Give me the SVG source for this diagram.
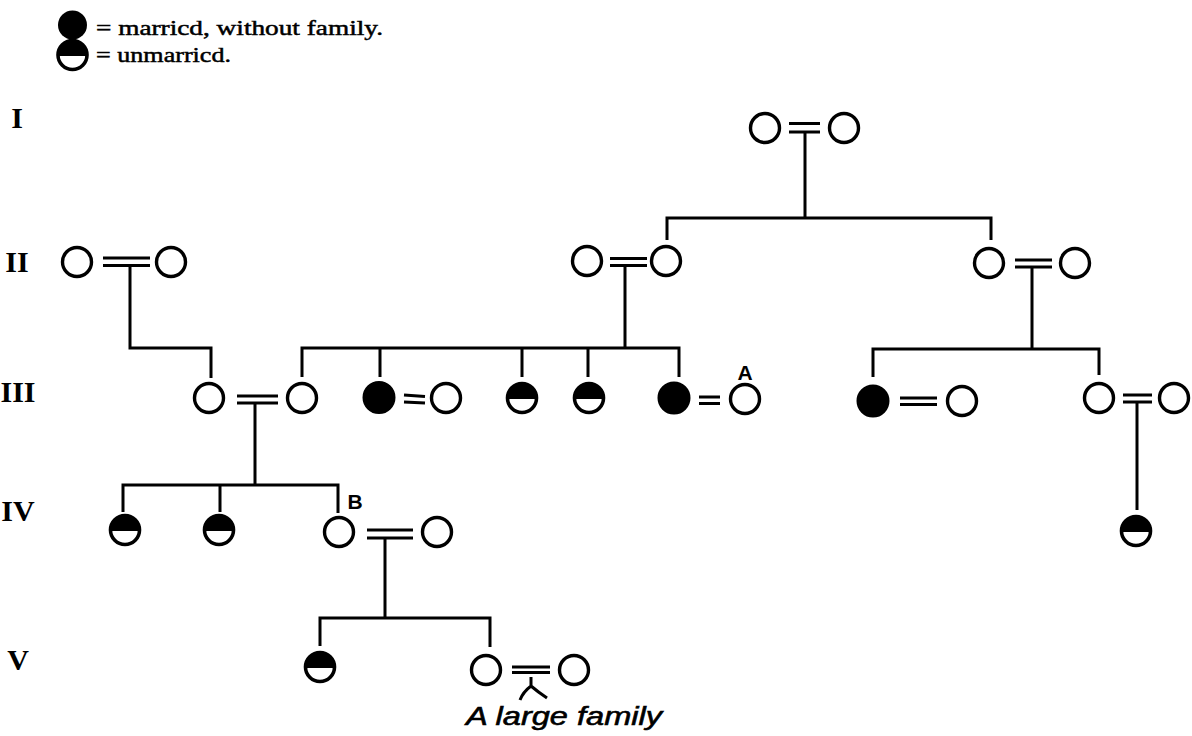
<svg xmlns="http://www.w3.org/2000/svg" xmlns:xlink="http://www.w3.org/1999/xlink" width="1192" height="736" viewBox="0 0 1192 736">
  <style>
    .ln { fill: none; stroke: #000; stroke-width: 3; stroke-linecap: butt; stroke-linejoin: miter; }
    .mar { fill: none; stroke: #000; stroke-width: 3.2; }
    .p { fill: #fff; stroke: #000; stroke-width: 3.4; }
    .f { fill: #000; stroke: #000; stroke-width: 2; }
    .gen { font-family: "Liberation Serif", "DejaVu Serif", serif; font-weight: bold; font-size: 30px; fill: #000; text-anchor: middle; }
    .leg { font-family: "Liberation Serif", "DejaVu Serif", serif; font-size: 22px; fill: #000; stroke: #000; stroke-width: 0.5; }
    .tag { font-family: "Liberation Sans", "DejaVu Sans", sans-serif; font-weight: bold; font-size: 21px; fill: #000; text-anchor: middle; }
    .note { font-family: "Liberation Sans", "DejaVu Sans", sans-serif; font-style: italic; font-size: 26px; fill: #000; stroke: #000; stroke-width: 0.6; }
  </style>
  <defs>
    <!-- unmarried: upper half black, lower half white -->
    <g id="half">
      <circle r="14.5" fill="#fff" stroke="#000" stroke-width="3.6"/>
      <path d="M-14.5,1 A14.5,14.5 0 0 1 14.5,1 Z" fill="#000"/>
    </g>
  </defs>

  <rect width="1192" height="736" fill="#fff"/>

  <!-- key -->
  <g id="legend">
    <circle cx="72.5" cy="25" r="14.5" fill="#000"/>
    <text class="leg" x="96" y="35" textLength="287" lengthAdjust="spacingAndGlyphs">= marricd, without family.</text>
    <use xlink:href="#half" href="#half" transform="translate(72.5,55)"/>
    <text class="leg" x="96" y="62" textLength="135" lengthAdjust="spacingAndGlyphs">= unmarricd.</text>
  </g>

  <!-- generation numerals -->
  <g id="generations">
    <text class="gen" x="17" y="128">I</text>
    <text class="gen" x="17" y="272">II</text>
    <text class="gen" x="18" y="402">III</text>
    <text class="gen" x="18" y="521">IV</text>
    <text class="gen" x="18" y="670">V</text>
  </g>

  <!-- connectors: marriage bars and descent lines -->
  <g id="connectors">
    <!-- I -->
    <path class="mar" d="M789,123.5 H820 M789,132 H820"/>
    <path class="ln" d="M805,132 V218 M667,240 V218 H991 V240"/>
    <!-- II left couple -->
    <path class="mar" d="M103,258 H150 M103,265.5 H150"/>
    <path class="ln" d="M130,265 V348 H211 V378"/>
    <!-- II middle couple -->
    <path class="mar" d="M610,258.5 H647 M610,265.5 H647"/>
    <path class="ln" d="M625,265 V348 M302,377 V348 H679 V377 M380,348 V377 M522,348 V377 M588,348 V377"/>
    <!-- II right couple -->
    <path class="mar" d="M1015,260 H1052 M1015,267 H1052"/>
    <path class="ln" d="M1032,267 V349 M873,377 V349 H1099 V375"/>
    <!-- III couples -->
    <path class="mar" d="M237,396 H278 M237,403 H278"/>
    <path class="ln" d="M255,403 V485 M123,512 V485 H338 V513 M220,485 V512"/>
    <path class="mar" d="M404,395 L425,396.5 M404,402 L425,403"/>
    <path class="mar" d="M699,397 H720 M699,403.5 H720"/>
    <path class="mar" d="M900,398 H937 M900,404.5 H937"/>
    <path class="mar" d="M1123,395 H1152 M1123,402 H1152"/>
    <path class="ln" d="M1137,402 V510"/>
    <!-- IV couple -->
    <path class="mar" d="M367,530 H413 M367,538 H413"/>
    <path class="ln" d="M385,538 V618 M320,646 V618 H490 V647"/>
    <!-- V couple and offspring mark -->
    <path class="mar" d="M512,667 H550 M512,672.5 H550"/>
    <path class="ln" d="M531,677 V686 M520,700 Q523,692 531,686 Q538,692 547,698"/>
  </g>

  <!-- generation I -->
  <g id="i-husband"><circle class="p" cx="765" cy="128" r="14.5"/></g>
  <g id="i-wife"><circle class="p" cx="844" cy="128" r="14.5"/></g>

  <!-- generation II -->
  <g id="ii-1"><circle class="p" cx="77" cy="262" r="14.5"/></g>
  <g id="ii-2"><circle class="p" cx="171" cy="262" r="14.5"/></g>
  <g id="ii-3"><circle class="p" cx="587" cy="261" r="14.5"/></g>
  <g id="ii-4"><circle class="p" cx="666" cy="261" r="14.5"/></g>
  <g id="ii-5"><circle class="p" cx="989" cy="263" r="14.5"/></g>
  <g id="ii-6"><circle class="p" cx="1075" cy="263" r="14.5"/></g>

  <!-- generation III -->
  <g id="iii-1"><circle class="p" cx="209" cy="398" r="14.5"/></g>
  <g id="iii-2"><circle class="p" cx="302" cy="398" r="14.5"/></g>
  <g id="iii-3"><circle class="f" cx="379" cy="397.5" r="15.5"/></g>
  <g id="iii-4"><circle class="p" cx="446" cy="398" r="14.5"/></g>
  <g id="iii-5"><use xlink:href="#half" href="#half" transform="translate(522,398)"/></g>
  <g id="iii-6"><use xlink:href="#half" href="#half" transform="translate(589,398)"/></g>
  <g id="iii-7"><circle class="f" cx="674" cy="398" r="15.5"/></g>
  <g id="iii-A"><circle class="p" cx="745" cy="399" r="14.5"/><text class="tag" x="745" y="380">A</text></g>
  <g id="iii-9"><circle class="f" cx="873" cy="401" r="15.5"/></g>
  <g id="iii-10"><circle class="p" cx="962" cy="401" r="14.5"/></g>
  <g id="iii-11"><circle class="p" cx="1099" cy="398" r="14.5"/></g>
  <g id="iii-12"><circle class="p" cx="1174" cy="398" r="14.5"/></g>

  <!-- generation IV -->
  <g id="iv-1"><use xlink:href="#half" href="#half" transform="translate(125,530)"/></g>
  <g id="iv-2"><use xlink:href="#half" href="#half" transform="translate(219,530)"/></g>
  <g id="iv-B"><circle class="p" cx="339" cy="532" r="14.5"/><text class="tag" x="355" y="509">B</text></g>
  <g id="iv-4"><circle class="p" cx="437" cy="532" r="14.5"/></g>
  <g id="iv-5"><use xlink:href="#half" href="#half" transform="translate(1136,531)"/></g>

  <!-- generation V -->
  <g id="v-1"><use xlink:href="#half" href="#half" transform="translate(320,667)"/></g>
  <g id="v-2"><circle class="p" cx="486" cy="670" r="14.5"/></g>
  <g id="v-3"><circle class="p" cx="574" cy="670" r="14.5"/></g>
  <g id="v-note"><text class="note" x="466" y="725" textLength="196" lengthAdjust="spacingAndGlyphs">A large family</text></g>
</svg>
